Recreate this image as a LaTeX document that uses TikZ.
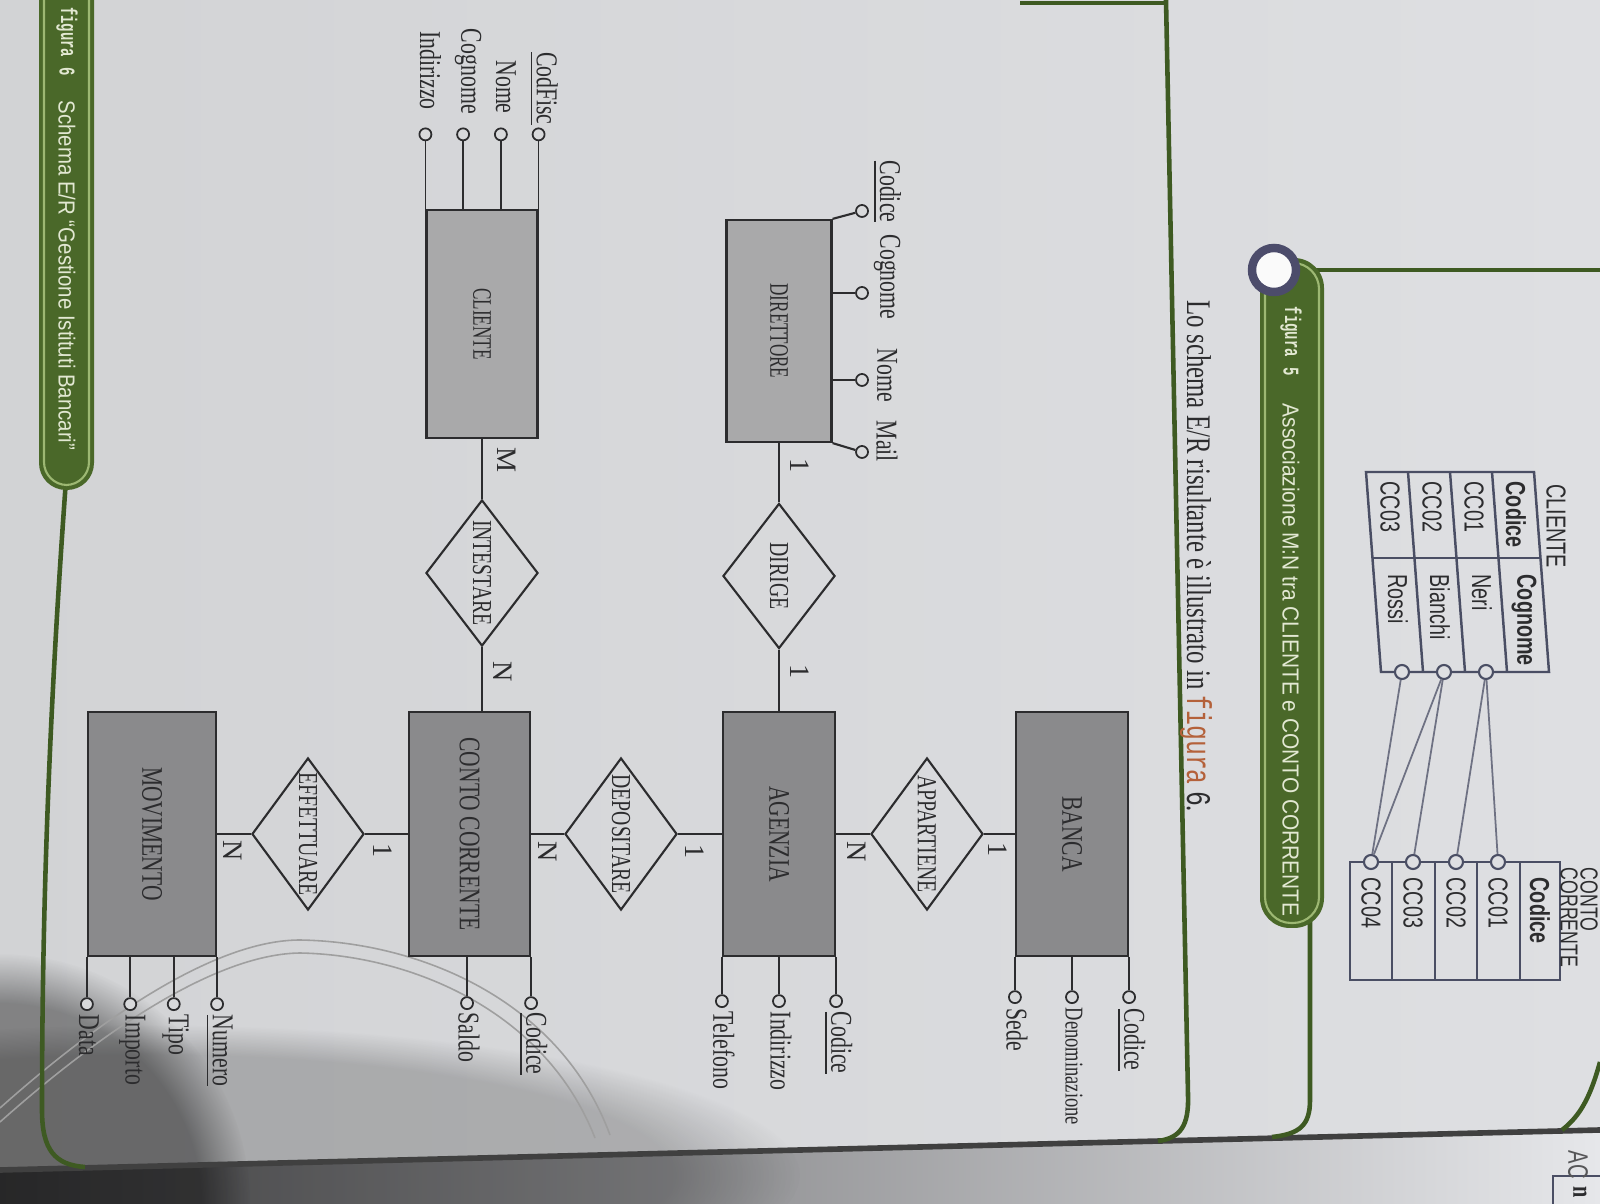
\documentclass[tikz,border=0pt]{standalone}
\usepackage{fontspec}
\setmainfont{Liberation Serif}
\setsansfont{Liberation Sans}
\setmonofont{Liberation Mono}
\usepackage{graphicx}
\usetikzlibrary{shapes.geometric,calc,fadings}

\definecolor{paperL}{HTML}{D2D3D5}
\definecolor{paperR}{HTML}{DEDFE2}
\definecolor{paper}{HTML}{D8D9DB}
\definecolor{nextpage}{HTML}{E6E7EA}
\definecolor{shadowdark}{HTML}{505052}
\definecolor{ink}{HTML}{2C2C2E}
\definecolor{entdark}{HTML}{8A8A8C}
\definecolor{entlight}{HTML}{A9A9AA}
\definecolor{pill}{HTML}{4A6829}
\definecolor{pillrim}{HTML}{9DB873}
\definecolor{pilltext}{HTML}{E2E8D2}
\definecolor{framegreen}{HTML}{3E5A22}
\definecolor{tabline}{HTML}{4A4E64}
\definecolor{refcol}{HTML}{B4613A}

% horizontal squeeze of a text along its reading direction
\newcommand\sq[2][0.72]{\scalebox{#1}[1]{#2}}

\begin{document}
\begin{tikzpicture}[x=0.01cm,y=-0.01cm,
  ent/.style={draw=ink, line width=0.6pt, fill=entdark, rotate=-90, inner sep=0pt,
              text=ink, font=\fontsize{8.5}{10}\selectfont},
  entl/.style={ent, fill=entlight, font=\fontsize{7.6}{9}\selectfont},
  rel/.style={draw=ink, line width=0.6pt, diamond, rotate=-90, inner sep=0pt,
              minimum width=1.52cm, minimum height=1.12cm, text=ink,
              font=\fontsize{7.8}{9}\selectfont},
  att/.style={circle, draw=ink, line width=0.5pt, fill=paper, minimum size=0.12cm, inner sep=0pt},
  lab/.style={rotate=-90, inner sep=0pt, text=ink, font=\fontsize{8.6}{10}\selectfont},
  card/.style={rotate=-90, inner sep=0pt, text=ink, font=\fontsize{8}{9}\selectfont},
  conn/.style={draw=ink, line width=0.6pt},
  tab/.style={draw=tabline, line width=0.7pt},
  tcell/.style={rotate=-90, inner sep=0pt, anchor=west, text=ink,
                font=\sffamily\fontsize{7.8}{9}\selectfont},
  ttitle/.style={tcell, font=\sffamily\fontsize{7}{8}\selectfont},
  tcirc/.style={circle, draw=tabline, line width=0.6pt, fill=paperR, minimum size=0.14cm, inner sep=0pt},
  tlink/.style={draw=tabline!80, line width=0.5pt},
  greenline/.style={draw=framegreen, line width=1.3pt},
  pilltxt/.style={rotate=-90, inner sep=0pt, anchor=west, text=pilltext,
                  font=\sffamily\fontsize{6.6}{8}\selectfont},
  pillmono/.style={rotate=-90, inner sep=0pt, text=pilltext,
                   font=\ttfamily\bfseries\fontsize{6.4}{8}\selectfont},
]
\useasboundingbox (0,0) rectangle (1600,1204);

% ---------- paper ----------
\shade[left color=paperL, right color=paperR] (0,0) rectangle (1600,1204);
% the following page, below the bottom edge
\shade[left color=shadowdark, middle color=gray!60, right color=nextpage]
  (0,1170) -- (1600,1130) -- (1600,1204) -- (0,1204) -- cycle;
% shadow in the lower left corner
\fill[black, opacity=0.38, path fading=circle with fuzzy edge 20 percent] (0,1204) circle (2.5cm);
\fill[black, opacity=0.2, path fading=circle with fuzzy edge 20 percent] (150,1175) ellipse (6.5cm and 1.5cm);
\draw[black!75, line width=1.6pt] (0,1170) -- (1600,1130);

% faint curved stroke across the lower part
\draw[gray!75!white, line width=0.45pt] (0,1108) .. controls (110,1010) and (220,940) .. (300,940)
  .. controls (420,942) and (560,1000) .. (610,1135);
\draw[gray!75!white, line width=0.45pt] (0,1122) .. controls (110,1024) and (220,954) .. (300,953)
  .. controls (410,955) and (545,1010) .. (595,1138);

% ---------- page frame ----------
\draw[greenline] (1020,3) -- (1166,3);
\draw[greenline] (1166,0) -- (1188,1095) .. controls (1189,1125) and (1181,1138) .. (1158,1141);
\draw[greenline] (66,480) .. controls (50,700) and (42,900) .. (42,1110)
  .. controls (42,1150) and (55,1165) .. (85,1167);
\draw[greenline] (1310,920) -- (1310,1100) .. controls (1310,1125) and (1300,1134) .. (1272,1137);
\draw[greenline] (1600,1062) .. controls (1590,1098) and (1580,1116) .. (1562,1130);

% ---------- caption bar, figure 6 ----------
\fill[pill, rounded corners=0.27cm] (39,-60) rectangle (94,490);
\draw[pillrim, line width=0.6pt, rounded corners=0.23cm] (44,-60) rectangle (89,485);
\node[pillmono, anchor=east] (f6a) at (67,58) {\sq[0.62]{figura}};
\node[pillmono] (f6b) at (67,72) {\sq[0.62]{6}};
\node[pilltxt] (f6c) at (67,100) {\sq[0.88]{Schema E/R “Gestione Istituti Bancari”}};

% ---------- caption bar, figure 5 ----------
\draw[greenline] (1296,270) -- (1600,270);
\fill[pill, rounded corners=0.3cm] (1260,258) rectangle (1324,928);
\draw[pillrim, line width=0.6pt, rounded corners=0.26cm] (1265,263) rectangle (1319,923);
\draw[draw=black!70!blue!40!gray, line width=2.4pt, fill=white!96!gray] (1274,270) circle (0.22cm);
\node[pillmono, anchor=west] (f5a) at (1291,306) {\sq[0.62]{figura}};
\node[pillmono] (f5b) at (1291,372) {\sq[0.62]{5}};
\node[pilltxt] (f5c) at (1291,403) {\sq[0.9]{Associazione M:N tra CLIENTE e CONTO CORRENTE}};

% ---------- running text ----------
\node[rotate=-90, anchor=west, inner sep=0pt, text=ink, font=\fontsize{9.8}{11}\selectfont] (run) at (1196,300)
  {\sq{Lo schema E/R risultante è illustrato in \textcolor{refcol}{\ttfamily figura} {\ttfamily 6}.}};

% ---------- table CLIENTE ----------
\draw[tab] (1366,472) -- (1534,472) -- (1549,672) -- (1381,672) -- cycle;
\foreach \a in {1408,1450,1492} \draw[tab] (\a,472) -- ({\a+15},672);
\draw[tab] (1372.5,558) -- (1540.5,558);
\node[tcell] (tcl) at (1556,484) {\sq{CLIENTE}};
\node[tcell] (h1) at (1516,481) {\sq{\bfseries Codice}};
\node[tcell] (h2) at (1524,574) {\sq{\bfseries Cognome}};
\node[tcell] (r1a) at (1474,481) {\sq{CC01}};
\node[tcell] (r1b) at (1482,574) {\sq{Neri}};
\node[tcell] (r2a) at (1432,481) {\sq{CC02}};
\node[tcell] (r2b) at (1440,574) {\sq{Bianchi}};
\node[tcell] (r3a) at (1390,481) {\sq{CC03}};
\node[tcell] (r3b) at (1398,574) {\sq{Rossi}};
\node[tcirc] (c1) at (1486,672) {};
\node[tcirc] (c2) at (1444,672) {};
\node[tcirc] (c3) at (1402,672) {};

% ---------- table CONTO CORRENTE ----------
\draw[tab] (1350,862) rectangle (1560,980);
\foreach \a in {1392,1435,1477,1520} \draw[tab] (\a,862) -- (\a,980);
\node[ttitle] (tcc1) at (1589,867) {\sq{CONTO}};
\node[ttitle] (tcc2) at (1569,867) {\sq{CORRENTE}};
\node[tcell] (k0) at (1540,877) {\sq{\bfseries Codice}};
\node[tcell] (k1t) at (1498,877) {\sq{CC01}};
\node[tcell] (k2t) at (1456,877) {\sq{CC02}};
\node[tcell] (k3t) at (1413,877) {\sq{CC03}};
\node[tcell] (k4t) at (1371,877) {\sq{CC04}};
\node[tcirc] (k1) at (1498,862) {};
\node[tcirc] (k2) at (1456,862) {};
\node[tcirc] (k3) at (1413,862) {};
\node[tcirc] (k4) at (1371,862) {};
\draw[tlink] (c1) -- (k1);
\draw[tlink] (c1) -- (k2);
\draw[tlink] (c2) -- (k3);
\draw[tlink] (c2) -- (k4);
\draw[tlink] (c3) -- (k4);

% bits of the facing page
\draw[tab] (1553,1176) rectangle (1610,1215);
\node[rotate=-90, inner sep=0pt, text=ink, font=\bfseries\fontsize{8}{9}\selectfont] (pn) at (1580,1192) {\sq{n}};
\node[rotate=-90, inner sep=0pt, anchor=west, text=ink!80, font=\sffamily\fontsize{8}{9}\selectfont] (pac) at (1578,1150) {\sq{AC}};

% ---------- E/R schema ----------
% entities
\node[ent, minimum width=2.44cm, minimum height=1.28cm] (mov) at (152,834) {\sq{MOVIMENTO}};
\node[ent, minimum width=2.44cm, minimum height=1.21cm] (conto) at (469.5,834) {\sq{CONTO CORRENTE}};
\node[ent, minimum width=2.44cm, minimum height=1.12cm] (ag) at (779,834) {\sq{AGENZIA}};
\node[ent, minimum width=2.44cm, minimum height=1.12cm] (banca) at (1072,834) {\sq{BANCA}};
\node[entl, minimum width=2.22cm, minimum height=1.05cm] (dir) at (779,331) {\sq[0.64]{DIRETTORE}};
\node[entl, minimum width=2.27cm, minimum height=1.11cm] (cli) at (482,324) {\sq[0.64]{CLIENTE}};

% relationships
\node[rel] (eff) at (308,834) {\makebox[0pt]{\sq{EFFETTUARE}}};
\node[rel] (dep) at (621,834) {\makebox[0pt]{\sq{DEPOSITARE}}};
\node[rel] (app) at (927,834) {\makebox[0pt]{\sq{APPARTIENE}}};
\node[rel, minimum width=1.45cm] (dirige) at (779,576) {\makebox[0pt]{\sq{DIRIGE}}};
\node[rel, minimum width=1.46cm] (int) at (482,573) {\makebox[0pt]{\sq{INTESTARE}}};

% links
\draw[conn] (mov.north) -- (eff.south);
\draw[conn] (eff.north) -- (conto.south);
\draw[conn] (conto.north) -- (dep.south);
\draw[conn] (dep.north) -- (ag.south);
\draw[conn] (ag.north) -- (app.south);
\draw[conn] (app.north) -- (banca.south);
\draw[conn] (dir.east) -- (dirige.west);
\draw[conn] (dirige.east) -- (ag.west);
\draw[conn] (cli.east) -- (int.west);
\draw[conn] (int.east) -- (int.east |- conto.west);

% cardinalities
\node[card] (k-dir) at (800,466) {1};
\node[card] (k-dag) at (800,672) {1};
\node[card] (k-cli) at (507,460) {M};
\node[card] (k-int) at (503,672) {N};
\node[card] (k-ce)  at (383,851) {1};
\node[card] (k-mov) at (233,851) {N};
\node[card] (k-cd)  at (548,852) {N};
\node[card] (k-da)  at (695,852) {1};
\node[card] (k-aa)  at (857,852) {N};
\node[card] (k-ab)  at (998,850) {1};

% attributes of BANCA
\node[att] (b1) at ($(banca.north east)+(0,40)$) {};
\node[att] (b2) at ($(banca.east)+(0,40)$) {};
\node[att] (b3) at ($(banca.south east)+(0,40)$) {};
\draw[conn] (banca.north east) -- (b1);
\draw[conn] (banca.east) -- (b2);
\draw[conn] (banca.south east) -- (b3);
\node[lab, anchor=west] (lb1) at ($(b1)+(2,11)$) {\sq{\underline{Codice}}};
\node[lab, anchor=west, font=\fontsize{7.3}{9}\selectfont] (lb2) at ($(b2)+(2,10)$) {\sq{Denominazione}};
\node[lab, anchor=west] (lb3) at ($(b3)+(2,11)$) {\sq{Sede}};

% attributes of AGENZIA
\node[att] (a1) at ($(ag.north east)+(0,44)$) {};
\node[att] (a2) at ($(ag.east)+(0,44)$) {};
\node[att] (a3) at ($(ag.south east)+(0,44)$) {};
\draw[conn] (ag.north east) -- (a1);
\draw[conn] (ag.east) -- (a2);
\draw[conn] (ag.south east) -- (a3);
\node[lab, anchor=west] (la1) at ($(a1)+(2,10)$) {\sq{\underline{Codice}}};
\node[lab, anchor=west] (la2) at ($(a2)+(2,10)$) {\sq{Indirizzo}};
\node[lab, anchor=west] (la3) at ($(a3)+(2,10)$) {\sq{Telefono}};

% attributes of CONTO CORRENTE
\coordinate (csaldo) at ($(conto.south east)!0.48!(conto.north east)$);
\node[att] (cc1) at ($(conto.north east)+(0,46)$) {};
\node[att] (cc2) at ($(csaldo)+(0,46)$) {};
\draw[conn] (conto.north east) -- (cc1);
\draw[conn] (csaldo) -- (cc2);
\node[lab, anchor=west] (lcc1) at ($(cc1)+(2,9)$) {\sq{\underline{Codice}}};
\node[lab, anchor=west] (lcc2) at ($(cc2)+(2,9)$) {\sq{Saldo}};

% attributes of MOVIMENTO
\coordinate (mtipo) at ($(mov.south east)!0.667!(mov.north east)$);
\coordinate (mimp) at ($(mov.south east)!0.333!(mov.north east)$);
\node[att] (m1) at ($(mov.north east)+(0,47)$) {};
\node[att] (m2) at ($(mtipo)+(0,47)$) {};
\node[att] (m3) at ($(mimp)+(0,47)$) {};
\node[att] (m4) at ($(mov.south east)+(0,47)$) {};
\draw[conn] (mov.north east) -- (m1);
\draw[conn] (mtipo) -- (m2);
\draw[conn] (mimp) -- (m3);
\draw[conn] (mov.south east) -- (m4);
\node[lab, anchor=west] (lm1) at ($(m1)+(2,10)$) {\sq{\underline{Numero}}};
\node[lab, anchor=west] (lm2) at ($(m2)+(2,10)$) {\sq{Tipo}};
\node[lab, anchor=west] (lm3) at ($(m3)+(2,10)$) {\sq{Importo}};
\node[lab, anchor=west] (lm4) at ($(m4)+(2,10)$) {\sq{Data}};

% attributes of DIRETTORE
\node[att] (d1) at (862,211) {};
\node[att] (d2) at (862,293) {};
\node[att] (d3) at (862,380) {};
\node[att] (d4) at (862,452) {};
\draw[conn] (dir.north west) -- (d1);
\draw[conn] (d2) -- (d2 -| dir.north);
\draw[conn] (d3) -- (d3 -| dir.north);
\draw[conn] (dir.north east) -- (d4);
\node[lab, anchor=west] (ld1) at (887,160) {\sq{\underline{Codice}}};
\node[lab, anchor=west] (ld2) at (887,234) {\sq{Cognome}};
\node[lab, anchor=west] (ld3) at (887,348) {\sq{Nome}};
\node[lab, anchor=west] (ld4) at (887,420) {\sq{Mail}};

% attributes of CLIENTE
\coordinate (cnome) at ($(cli.south west)!0.667!(cli.north west)$);
\coordinate (ccog) at ($(cli.south west)!0.333!(cli.north west)$);
\node[att] (q1) at ($(cli.north west)+(0,-75)$) {};
\node[att] (q2) at ($(cnome)+(0,-75)$) {};
\node[att] (q3) at ($(ccog)+(0,-75)$) {};
\node[att] (q4) at ($(cli.south west)+(0,-75)$) {};
\draw[conn, line width=0.45pt] (cli.north west) -- (q1);
\draw[conn, line width=0.45pt] (cnome) -- (q2);
\draw[conn, line width=0.45pt] (ccog) -- (q3);
\draw[conn, line width=0.45pt] (cli.south west) -- (q4);
\node[lab, anchor=east] (lq1) at ($(q1)+(5,-9)$) {\sq{\underline{CodFisc}}};
\node[lab, anchor=east] (lq2) at ($(q2)+(5,-20)$) {\sq{Nome}};
\node[lab, anchor=east] (lq3) at ($(q3)+(5,-20)$) {\sq{Cognome}};
\node[lab, anchor=east] (lq4) at ($(q4)+(5,-24)$) {\sq{Indirizzo}};
\end{tikzpicture}
\end{document}
